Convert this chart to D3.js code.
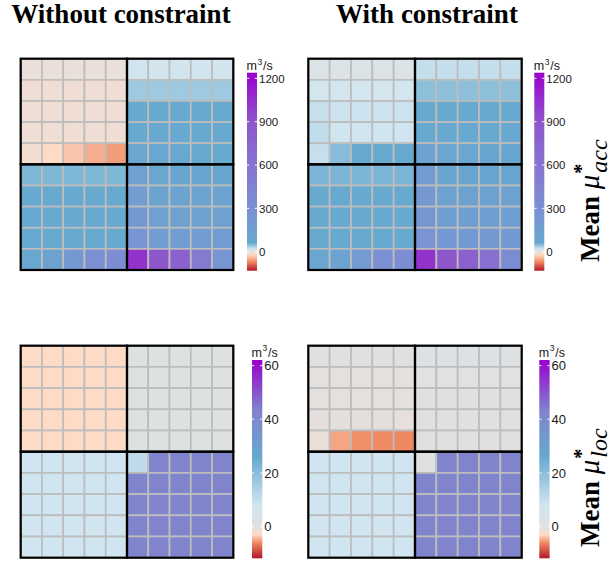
<!DOCTYPE html>
<html>
<head>
<meta charset="utf-8">
<script src="https://cdn.jsdelivr.net/npm/d3@7"></script>
<style>
  body { margin: 0; background: #fff; }
  svg { display: block; }
</style>
</head>
<body>
<svg id="chart" width="616" height="565"></svg>
<script>
// Grid index (10 x 10 cells, row 0 at the top)
const gridRows = d3.range(10);
const gridCols = d3.range(10);

// Column headings and unit label
const columnTitles = ["Without constraint", "With constraint"];
const unitLabel = "m3/s";

// Mean mu*_acc (m^3/s), without constraint
const accWithout = [
  [-6, -6, -6, -6, -6, 19, 19, 19, 19, 19],
  [-10, -10, -10, -10, -10, 39, 39, 39, 39, 39],
  [-10, -10, -10, -10, -10, 62, 62, 62, 62, 62],
  [-10, -10, -10, -10, -10, 62, 62, 62, 62, 62],
  [-12, -20, -33, -47, -58, 90, 75, 75, 65, 60],
  [51, 51, 51, 51, 51, 150, 80, 85, 88, 85],
  [62, 62, 62, 62, 62, 180, 110, 112, 118, 118],
  [62, 62, 62, 62, 62, 210, 140, 140, 140, 140],
  [64, 64, 64, 64, 64, 260, 170, 170, 178, 185],
  [75, 127, 210, 300, 330, 1040, 880, 775, 535, 250]
];

// Mean mu*_acc (m^3/s), with constraint
const accWith = [
  [9, 9, 9, 9, 9, 25, 25, 25, 25, 25],
  [18, 18, 18, 18, 18, 45, 45, 45, 45, 45],
  [24, 22, 22, 22, 22, 62, 62, 62, 62, 62],
  [26, 20, 20, 20, 20, 62, 62, 62, 62, 62],
  [24, 48, 65, 65, 65, 120, 90, 90, 88, 85],
  [52, 52, 52, 52, 52, 190, 100, 100, 100, 100],
  [62, 62, 62, 62, 62, 230, 130, 130, 130, 130],
  [62, 62, 62, 62, 62, 240, 160, 160, 160, 160],
  [64, 64, 64, 64, 64, 270, 210, 210, 210, 210],
  [90, 120, 200, 300, 330, 1040, 880, 770, 640, 340]
];

// Mean mu*_loc (m^3/s), without constraint
const locWithout = [
  [-3, -3, -3, -3, -3, 1, 1, 1, 1, 1],
  [-3, -3, -3, -3, -3, 1, 1, 1, 1, 1],
  [-3, -3, -3, -3, -3, 1, 1, 1, 1, 1],
  [-3, -3, -3, -3, -3, 1, 1, 1, 1, 1],
  [-3, -3, -3, -3, -3, 1, 1, 1, 1, 1],
  [8, 8, 8, 8, 8, 11, 43, 43, 43, 43],
  [8, 8, 8, 8, 8, 43, 43, 43, 43, 43],
  [8, 8, 8, 8, 8, 43, 43, 43, 43, 43],
  [8, 8, 8, 8, 8, 43, 43, 43, 43, 43],
  [8, 8, 8, 8, 8, 43, 43, 43, 43, 43]
];

// Mean mu*_loc (m^3/s), with constraint
const locWith = [
  [0, 0, 0, 0, 0, 1.5, 1.5, 1.5, 1.5, 1.5],
  [-0.3, -0.3, -0.3, -0.3, -0.3, 0.8, 0.8, 0.8, 0.8, 0.8],
  [-0.3, -0.3, -0.3, -0.3, -0.3, 0.5, 0.5, 0.5, 0.5, 0.5],
  [-0.4, -0.4, -0.4, -0.4, -0.6, 0.5, 0.5, 0.5, 0.5, 0.5],
  [-0.9, -5, -5.85, -6, -6.1, -0.2, -0.2, -0.2, -0.2, -0.2],
  [8, 8, 8, 8, 8, 0.3, 43, 43, 43, 43],
  [8, 8, 8, 8, 8, 43, 43, 43, 43, 43],
  [8, 8, 8, 8, 8, 43, 43, 43, 43, 43],
  [8, 8, 8, 8, 8, 43, 43, 43, 43, 43],
  [8, 8, 8, 8, 8, 43, 43, 43, 43, 43]
];

// Colour bar ticks and limits
const accTicks = [0, 300, 600, 900, 1200];
const locTicks = [0, 20, 40, 60];
const accLimits = [-131.5, 1239];
const locLimits = [-11.8, 62.1];

// Diverging palettes (value stops -> colours)
const accStops = [-131.5, -70, -20, 0, 20, 60, 300, 600, 900, 1239];
const accColors = ["#b2182b", "#ef8a62", "#fddbc7", "#e3e1e0", "#d1e5f0", "#67a9cf",
                   "#7b90d3", "#8674cf", "#8f55cc", "#9900cc"];
const locStops = [-11.8, -6, -3, 0, 8, 26, 43, 62.1];
const locColors = ["#b2182b", "#ef8a62", "#fddbc7", "#e0e0e0", "#d1e5f0", "#67a9cf",
                   "#8084cc", "#9900cc"];

const accColor = d3.scaleLinear().domain(accStops).range(accColors)
  .interpolate(d3.interpolateRgb).clamp(true);
const locColor = d3.scaleLinear().domain(locStops).range(locColors)
  .interpolate(d3.interpolateRgb).clamp(true);

const svg = d3.select("#chart");
const defs = svg.append("defs");

function drawHeatmap(box, values, color) {
  const g = svg.append("g");
  const x = d3.scaleBand().domain(gridCols).range([box.x, box.x + box.w]);
  const y = d3.scaleBand().domain(gridRows).range([box.y, box.y + box.h]);

  const cells = [];
  values.forEach((row, r) => row.forEach((v, c) => cells.push({ r, c, v })));

  g.selectAll("rect.cell")
    .data(cells)
    .join("rect")
    .attr("class", "cell")
    .attr("x", d => x(d.c))
    .attr("y", d => y(d.r))
    .attr("width", x.bandwidth())
    .attr("height", y.bandwidth())
    .attr("fill", d => color(d.v))
    .attr("stroke", "#bdbdbd")
    .attr("stroke-width", 1.7);

  // 5 x 5 blocks outlined in black
  const blocks = [[0, 0], [0, 5], [5, 0], [5, 5]];
  g.selectAll("rect.block")
    .data(blocks)
    .join("rect")
    .attr("class", "block")
    .attr("x", d => x(d[1]))
    .attr("y", d => y(d[0]))
    .attr("width", x.bandwidth() * 5)
    .attr("height", y.bandwidth() * 5)
    .attr("fill", "none")
    .attr("stroke", "#000")
    .attr("stroke-width", 2.2);
}

function drawColorbar(id, bar, limits, ticks, color, fontSize) {
  const g = svg.append("g");
  const yS = d3.scaleLinear().domain(limits).range([bar.y1, bar.y0]);

  const grad = defs.append("linearGradient")
    .attr("id", id)
    .attr("x1", 0).attr("y1", 0).attr("x2", 0).attr("y2", 1);
  d3.range(0, 1.0001, 1 / 120).forEach(t => {
    const v = limits[1] - t * (limits[1] - limits[0]);
    grad.append("stop").attr("offset", t).attr("stop-color", color(v));
  });

  g.append("rect")
    .attr("x", bar.x)
    .attr("y", bar.y0)
    .attr("width", bar.w)
    .attr("height", bar.y1 - bar.y0)
    .attr("fill", `url(#${id})`);

  // small white tick marks on both edges
  ticks.forEach(t => {
    [[bar.x, bar.x + 2.2], [bar.x + bar.w - 2.2, bar.x + bar.w]].forEach(([a, b]) => {
      g.append("line")
        .attr("x1", a).attr("x2", b)
        .attr("y1", yS(t)).attr("y2", yS(t))
        .attr("stroke", "#fff")
        .attr("stroke-width", 1.1)
        .attr("opacity", 0.9);
    });
  });

  const axis = d3.axisRight(yS).tickValues(ticks).tickFormat(d3.format("d"))
    .tickSize(0).tickPadding(2);
  const ax = g.append("g")
    .attr("transform", `translate(${bar.x + bar.w},0)`)
    .call(axis);
  ax.select(".domain").remove();
  ax.selectAll("text")
    .attr("font-family", "'Liberation Sans', Arial, sans-serif")
    .attr("font-size", fontSize)
    .attr("fill", "#1a1a1a");

  // unit label m³/s
  const u = g.append("text")
    .attr("x", bar.x - 0.5)
    .attr("y", bar.labelY)
    .attr("font-family", "'Liberation Sans', Arial, sans-serif")
    .attr("font-size", 12.5)
    .attr("fill", "#1a1a1a");
  u.append("tspan").text(unitLabel.slice(0, 1));
  u.append("tspan").attr("font-size", 8.5).attr("dy", -5.5).attr("dx", 0.5).text(unitLabel.slice(1, 2));
  u.append("tspan").attr("dy", 5.5).attr("dx", 0.8).text(unitLabel.slice(2));
}

function drawRowLabel(xBase, yStart, sub) {
  const t = svg.append("text")
    .attr("transform", `translate(${xBase},${yStart}) rotate(-90)`)
    .attr("font-family", "'Liberation Serif', 'Times New Roman', serif")
    .attr("font-weight", "bold")
    .attr("font-size", 27)
    .attr("fill", "#000");
  t.append("tspan").text("Mean ");
  t.append("tspan").attr("font-style", "italic").attr("font-weight", "normal")
    .attr("font-size", 29).text("\u03bc");
  t.append("tspan").attr("font-size", 20).attr("dy", -11).attr("dx", 1).text("*");
  t.append("tspan").attr("font-size", 24).attr("font-style", "italic")
    .attr("font-weight", "normal")
    .attr("dx", -9).attr("dy", 19).text(sub);
}

// Column titles
const titleX = [121, 427];
columnTitles.forEach((t, i) => {
  svg.append("text")
    .attr("x", titleX[i])
    .attr("y", 22.5)
    .attr("text-anchor", "middle")
    .attr("font-family", "'Liberation Serif', 'Times New Roman', serif")
    .attr("font-weight", "bold")
    .attr("font-size", 27)
    .attr("fill", "#000")
    .text(t);
});

// Panels
drawHeatmap({ x: 20.7, y: 58.7, w: 212.6, h: 211.3 }, accWithout, accColor);
drawHeatmap({ x: 308.3, y: 58.7, w: 213.4, h: 211.3 }, accWith, accColor);
drawHeatmap({ x: 20.7, y: 345.7, w: 212.6, h: 212 }, locWithout, locColor);
drawHeatmap({ x: 308.3, y: 345.7, w: 213.4, h: 212 }, locWith, locColor);

drawColorbar("cbAcc1", { x: 247, w: 10, y0: 72.7, y1: 270.7, labelY: 70 }, accLimits, accTicks, accColor, 11.5);
drawColorbar("cbAcc2", { x: 534.3, w: 10, y0: 72.7, y1: 270.7, labelY: 70 }, accLimits, accTicks, accColor, 11.5);
drawColorbar("cbLoc1", { x: 252, w: 10.3, y0: 360, y1: 558.3, labelY: 356.5 }, locLimits, locTicks, locColor, 13);
drawColorbar("cbLoc2", { x: 539.3, w: 10.3, y0: 360, y1: 558.3, labelY: 356.5 }, locLimits, locTicks, locColor, 13);

drawRowLabel(599, 262, "acc");
drawRowLabel(599, 547, "loc");
</script>
</body>
</html>
